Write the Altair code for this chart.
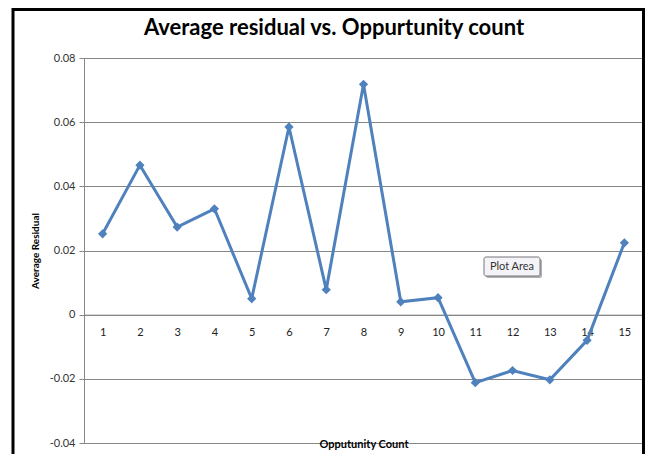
import altair as alt
import pandas as pd

counts = list(range(1, 16))
residuals = [0.0252, 0.0466, 0.0273, 0.0330, 0.0050, 0.0585, 0.0078, 0.0718,
             0.0040, 0.0053, -0.0212, -0.0174, -0.0203, -0.0080, 0.0224]
y_ticks = [-0.04, -0.02, 0, 0.02, 0.04, 0.06, 0.08]
chart_title = "Average residual vs. Oppurtunity count"
x_title = "Opputunity Count"
y_title = "Average Residual"
tooltip_text = "Plot Area"

df = pd.DataFrame({"count": counts, "residual": residuals})
one = pd.DataFrame({"t": [chart_title]})
tip = pd.DataFrame({"t": [tooltip_text]})

W, H = 559, 385
blue = "#4F81BD"
grid = "#878787"
FONT = "Lato"

x = alt.X(
    "count:O",
    scale=alt.Scale(type="point", padding=0.5),
    axis=alt.Axis(
        title=x_title, labelAngle=0, offset=-128.33, ticks=False,
        domainColor=grid, domainWidth=1, labelPadding=12,
        labelFont=FONT, labelFontSize=11, labelColor="#222",
        titleFont=FONT, titleFontSize=11, titleFontWeight="bold",
        titleY=130, titleBaseline="middle", titleColor="#000",
    ),
)
y = alt.Y(
    "residual:Q",
    scale=alt.Scale(domain=[-0.04, 0.08], nice=False, zero=False),
    axis=alt.Axis(
        title=y_title, values=y_ticks, grid=True, gridColor=grid, gridWidth=1,
        domainColor=grid, tickColor=grid, tickSize=5,
        labelExpr="datum.value == 0 ? '0' : (datum.value < 0 ? '-' + format(abs(datum.value), '.2f') : format(datum.value, '.2f'))",
        labelFont=FONT, labelFontSize=11, labelColor="#333", labelPadding=4,
        titleFont=FONT, titleFontSize=10, titleFontWeight="bold", titleColor="#000",
        titlePadding=9,
    ),
)

line = alt.Chart(df).mark_line(color=blue, strokeWidth=3).encode(x=x, y=y)
pts = alt.Chart(df).mark_point(shape="diamond", filled=True, size=85, color=blue, opacity=1).encode(x=x, y=y)

frame = alt.Chart(one).mark_rect(filled=False, stroke="black", strokeWidth=3).encode(
    x=alt.value(-71), x2=alt.value(559.5), y=alt.value(-48.5), y2=alt.value(480)
)
title = alt.Chart(one).mark_text(font=FONT, fontSize=22, fontWeight="bold", color="#000").encode(
    text="t:N", x=alt.value(250), y=alt.value(-30)
)
tip_shadow = alt.Chart(tip).mark_rect(fill="#b0b0b0", cornerRadius=2).encode(
    x=alt.value(402), x2=alt.value(458), y=alt.value(201), y2=alt.value(220)
)
tip_box = alt.Chart(tip).mark_rect(fill="#f4f4f8", stroke="#777", strokeWidth=1, cornerRadius=2).encode(
    x=alt.value(400), x2=alt.value(456), y=alt.value(199), y2=alt.value(218)
)
tip_txt = alt.Chart(tip).mark_text(font=FONT, fontSize=11, color="#333").encode(
    text="t:N", x=alt.value(428), y=alt.value(208.5)
)

chart = alt.layer(frame, line, pts, title, tip_shadow, tip_box, tip_txt).properties(
    width=W, height=H,
    autosize=alt.AutoSizeParams(type="none"),
    padding={"left": 76, "top": 50, "right": 2, "bottom": 11},
).configure_view(stroke=None).configure(background="white")

chart.save("out.html", embed_options={"renderer": "svg", "actions": False})
